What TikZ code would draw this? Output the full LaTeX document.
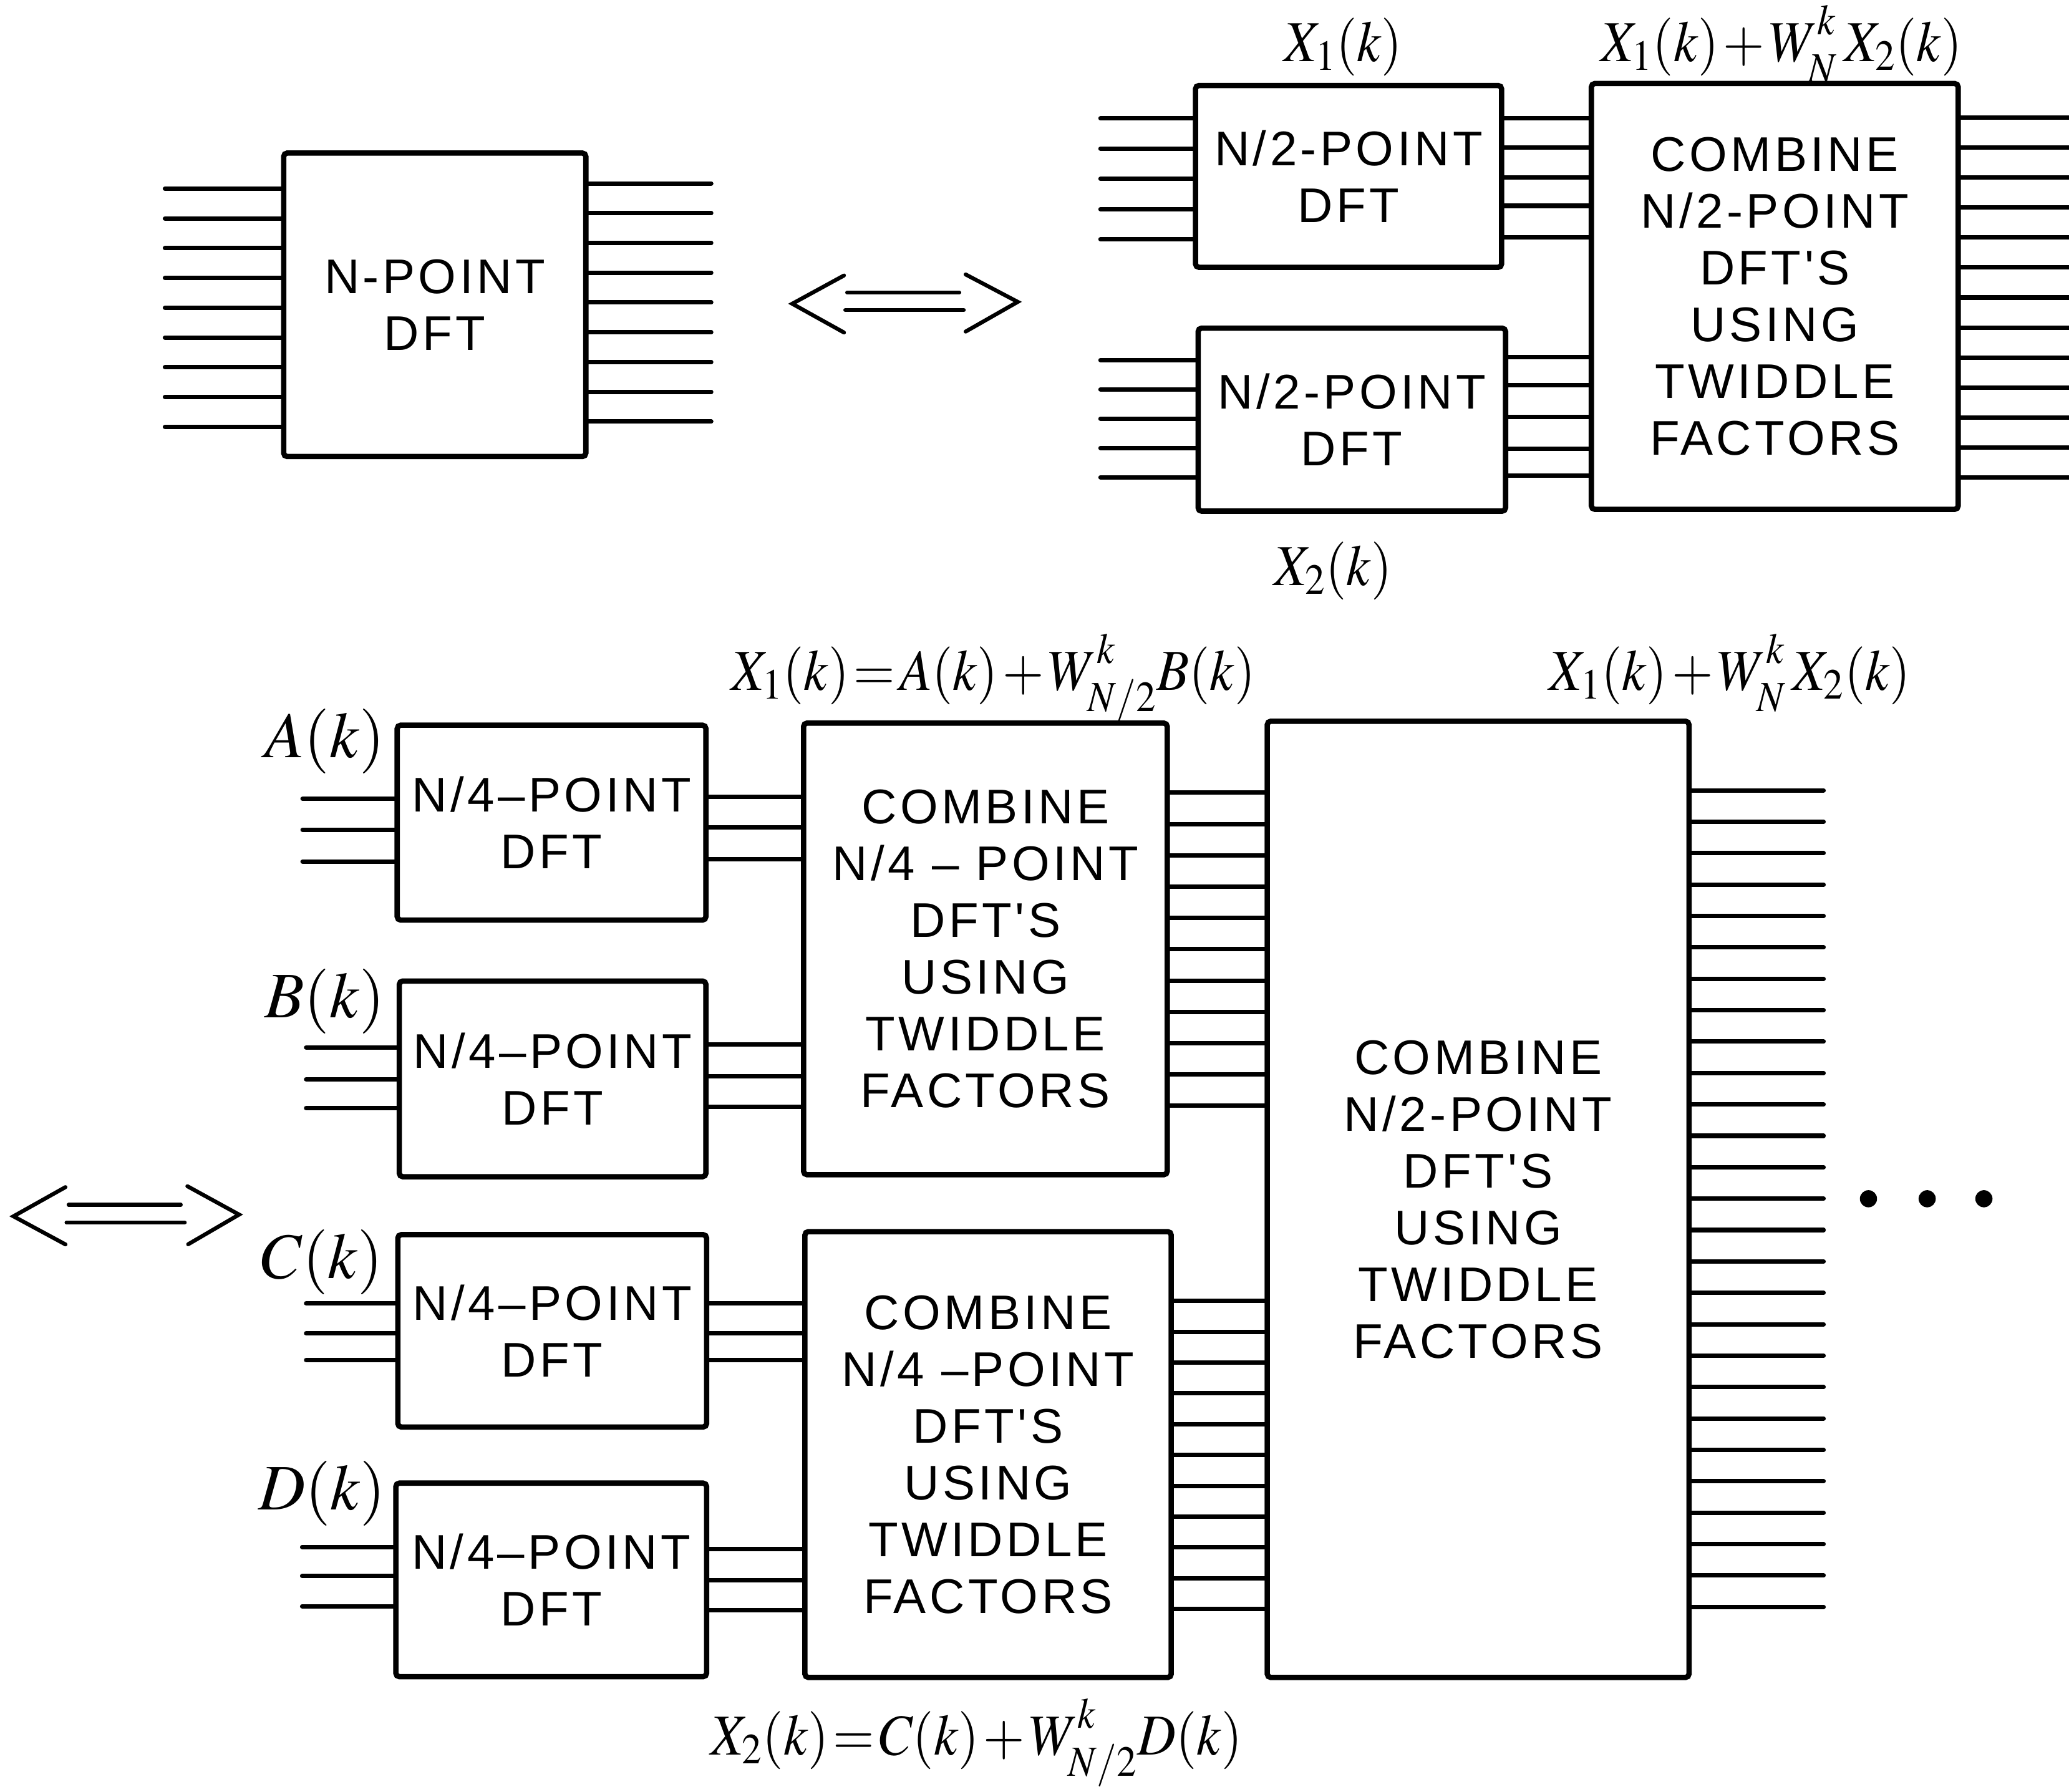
\documentclass[tikz,border=0pt]{standalone}
\usepackage{mathptmx}
\usepackage{graphicx}
\font\lett="Liberation Sans:letterspace=7" at 21pt
\newcommand\lettset{\lett\baselineskip=24.5pt\relax}
\newcommand\mfont{\fontsize{25}{30}\selectfont\thickmuskip=1.5mu\medmuskip=1.5mu\relax}
\newcommand\mfontbig{\fontsize{28}{32}\selectfont}
\newcommand\lbl[1]{\scalebox{0.92}[1]{$#1$}}
\newcommand\WW[2]{W^{\raisebox{0.1em}{$\scriptstyle #1$}}_{\raisebox{-0.12em}{$\scriptstyle #2$}}}
\newcommand\dbox[6]{\node[box, minimum width={(#4-#2)*0.02cm}, minimum height={(#5-#3)*0.02cm}] (#1) at ({(#2+#4)/2},{(#3+#5)/2}) {#6};}
\begin{document}
\begin{tikzpicture}[x=0.02cm,y=-0.02cm,
  box/.style={draw, line width=2.3pt, rounded corners=1.5pt, align=center, font=\lettset, inner sep=0pt},
  wire/.style={line width=1.9pt, line cap=round},
  lab/.style={inner sep=0pt, font=\mfont, anchor=base},
  biglab/.style={inner sep=0pt, font=\mfontbig, anchor=base},
  dblarrow/.style={line width=1.7pt, line cap=round, line join=miter}]
\useasboundingbox (0,0) rectangle (1568,1358);

% ---------- top left: N-point DFT ----------
\dbox{NP}{215}{116}{444}{346}{N-POINT\\DFT}
\foreach \i in {0,...,8}{\pgfmathsetmacro\yy{143+\i*22.56}
  \draw[wire] (125,\yy) -- (NP.west |- 0,\yy);}
\foreach \i in {0,...,8}{\pgfmathsetmacro\yy{139+\i*22.56}
  \draw[wire] (NP.east |- 0,\yy) -- (539,\yy);}

% ---------- double arrows ----------
\draw[dblarrow] (639.6,208.8) -- (600.4,230.2) -- (639.6,252);
\draw[dblarrow] (731.8,208) -- (771.3,228.8) -- (731.8,251.3);
\draw[dblarrow] (642,221.7) -- (727,221.7);
\draw[dblarrow] (640.6,235) -- (730.4,235);

\draw[dblarrow] (49.6,899.7) -- (10.2,921.8) -- (49.6,943.1);
\draw[dblarrow] (142,899) -- (181.2,920.5) -- (142.6,943);
\draw[dblarrow] (52,913.1) -- (137,913.1);
\draw[dblarrow] (50.4,926.5) -- (140,926.5);

% ---------- top right ----------
\dbox{H1}{906}{64.8}{1138}{202.6}{N/2-POINT\\DFT}
\dbox{H2}{908}{248.7}{1141}{387.4}{N/2-POINT\\DFT}
\dbox{CT}{1206}{63.3}{1484}{386}{COMBINE\\N/2-POINT\\DFT'S\\USING\\TWIDDLE\\FACTORS}

\foreach \i in {0,...,4}{\pgfmathsetmacro\yy{89.8+\i*22.9}
  \draw[wire] (834,\yy) -- (H1.west |- 0,\yy);}
\foreach \yy in {89.8,112,134.5,156,180}
  \draw[wire] (H1.east |- 0,\yy) -- (CT.west |- 0,\yy);
\foreach \i in {0,...,4}{\pgfmathsetmacro\yy{272.9+\i*22.2}
  \draw[wire] (834,\yy) -- (H2.west |- 0,\yy);}
\foreach \yy in {270.7,291.9,316,340,360.3}
  \draw[wire] (H2.east |- 0,\yy) -- (CT.west |- 0,\yy);
\foreach \i in {0,...,12}{\pgfmathsetmacro\yy{89+\i*22.75}
  \draw[wire] (CT.east |- 0,\yy) -- (1568,\yy);}

\node[lab] (lX1) at (1018,46.5) {\lbl{X_1(k)}};
\node[lab] (lXt) at (1350,46.5) {\lbl{X_1(k)+\WW{k}{N}\,X_2(k)}};
\node[lab] (lX2) at (1010,443.7) {\lbl{X_2(k)}};

% ---------- bottom: N/4-point DFTs ----------
\dbox{QA}{301}{549.6}{535}{697.3}{N/4–POINT\\DFT}
\dbox{QB}{302.6}{743.5}{535}{891.8}{N/4–POINT\\DFT}
\dbox{QC}{301.5}{935.7}{535.5}{1081.5}{N/4–POINT\\DFT}
\dbox{QD}{300}{1124}{535.5}{1270.7}{N/4–POINT\\DFT}
\dbox{CU}{609}{548}{884.6}{890.3}{COMBINE\\N/4 – POINT\\DFT'S\\USING\\TWIDDLE\\FACTORS}
\dbox{CL}{610}{933.4}{887.6}{1271.3}{COMBINE\\N/4 –POINT\\DFT'S\\USING\\TWIDDLE\\FACTORS}
\dbox{BIG}{960.4}{546.6}{1280}{1271.3}{COMBINE\\N/2-POINT\\DFT'S\\USING\\TWIDDLE\\FACTORS}

\foreach \yy in {605.4,628.9,653} \draw[wire] (229.3,\yy) -- (QA.west |- 0,\yy);
\foreach \yy in {603.9,627,651.2} \draw[wire] (QA.east |- 0,\yy) -- (CU.west |- 0,\yy);
\foreach \yy in {793.8,817.9,839.9} \draw[wire] (232,\yy) -- (QB.west |- 0,\yy);
\foreach \yy in {791.7,815.8,839} \draw[wire] (QB.east |- 0,\yy) -- (CU.west |- 0,\yy);
\foreach \yy in {987.7,1010.5,1030.8} \draw[wire] (232,\yy) -- (QC.west |- 0,\yy);
\foreach \yy in {987.7,1010.5,1030.8} \draw[wire] (QC.east |- 0,\yy) -- (CL.west |- 0,\yy);
\foreach \yy in {1172.4,1194.4,1217.3} \draw[wire] (229,\yy) -- (QD.west |- 0,\yy);
\foreach \yy in {1173.9,1197.4,1220.2} \draw[wire] (QD.east |- 0,\yy) -- (CL.west |- 0,\yy);

\foreach \i in {0,...,10}{\pgfmathsetmacro\yy{600.8+\i*23.73}
  \draw[wire] (CU.east |- 0,\yy) -- (BIG.west |- 0,\yy);}
\foreach \i in {0,...,10}{\pgfmathsetmacro\yy{986+\i*23.34}
  \draw[wire] (CL.east |- 0,\yy) -- (BIG.west |- 0,\yy);}
\foreach \i in {0,...,26}{\pgfmathsetmacro\yy{599+\i*23.8}
  \draw[wire] (BIG.east |- 0,\yy) -- (1382,\yy);}

\fill (1416,908.5) circle[radius=6.5];
\fill (1460.5,908.5) circle[radius=6.5];
\fill (1503.5,908.5) circle[radius=6.5];

\node[biglab] (lA) at (246,574) {$A(k)$};
\node[biglab] (lB) at (246,771) {$B(k)$};
\node[biglab] (lC) at (244,969) {$C(k)$};
\node[biglab] (lD) at (244,1144) {$D(k)$};
\node[lab] (lX1b) at (752.7,523) {\lbl{X_1(k)=A(k)+\WW{k}{N/2}B(k)}};
\node[lab] (lXtb) at (1311,523) {\lbl{X_1(k)+\WW{k}{N}\,X_2(k)}};
\node[lab] (lX2b) at (740,1330) {\lbl{X_2(k)=C(k)+\WW{k}{N/2}D(k)}};
\end{tikzpicture}
\end{document}
